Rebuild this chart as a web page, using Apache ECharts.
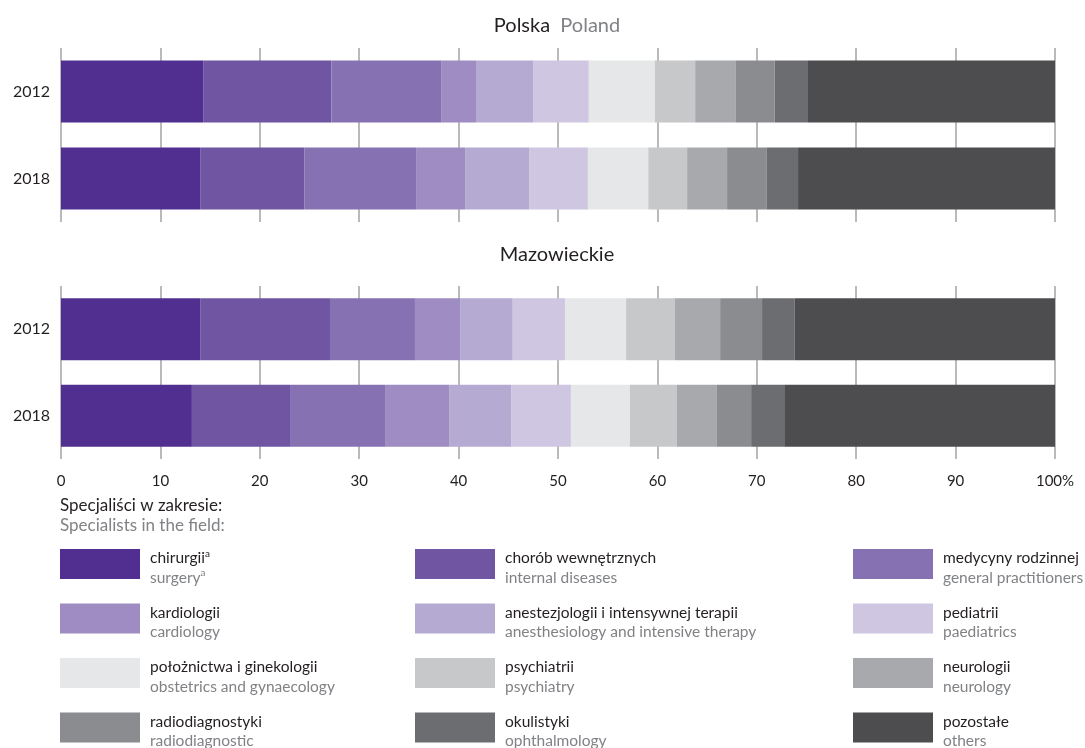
<!DOCTYPE html>
<html><head><meta charset="utf-8">
<script src="https://cdn.jsdelivr.net/npm/echarts@6/dist/echarts.min.js"></script>
<style>html,body{margin:0;padding:0;background:#fff}#c{width:1085px;height:748px}</style>
</head><body><div id="c"></div>
<script>
const years = ['2012', '2018'];
const ticks = ['0','10','20','30','40','50','60','70','80','90','100%'];
const namesPl = ['chirurgii','chorób wewnętrznych','medycyny rodzinnej','kardiologii','anestezjologii i intensywnej terapii','pediatrii','położnictwa i ginekologii','psychiatrii','neurologii','radiodiagnostyki','okulistyki','pozostałe'];
const namesEn = ['surgery','internal diseases','general practitioners','cardiology','anesthesiology and intensive therapy','paediatrics','obstetrics and gynaecology','psychiatry','neurology','radiodiagnostic','ophthalmology','others'];
const colors = ['#512f91','#6f55a2','#8672b2','#9e8cc2','#b4aad2','#cfc6e1','#e6e7e8','#c7c8ca','#a7a9ac','#8b8c90','#6c6d71','#4d4d4f'];
const polska2012 = [14.3, 12.9, 11.1, 3.45, 5.8, 5.55, 6.65, 4.05, 4.1, 3.9, 3.35, 24.85];
const polska2018 = [14.0, 10.47, 11.25, 4.93, 6.44, 5.92, 6.07, 3.91, 4.02, 4.0, 3.14, 25.85];
const mazow2012 = [14.0, 13.06, 8.55, 4.54, 5.3, 5.25, 6.15, 4.92, 4.54, 4.22, 3.29, 26.18];
const mazow2018 = [13.17, 9.87, 9.56, 6.5, 6.18, 6.02, 5.93, 4.74, 4.02, 3.44, 3.33, 27.24];

const FONT = 'Lato';
const chart = echarts.init(document.getElementById('c'), null, {renderer: 'canvas'});

function xAx(idx, showLabels) {
  return {
    gridIndex: idx, type: 'value', min: 0, max: 100, interval: 10,
    axisLine: {show: false}, axisTick: {show: false},
    splitLine: {show: true, lineStyle: {color: '#a3a3a3', width: 1.5}},
    axisLabel: {show: showLabels, margin: 15, fontFamily: FONT, fontSize: 15, color: '#231f20',
      formatter: (v) => ticks[Math.round(v / 10)]}
  };
}
function yAx(idx) {
  return {
    gridIndex: idx, type: 'category', data: years, inverse: true,
    axisLine: {show: false}, axisTick: {show: false},
    axisLabel: {margin: 11, fontFamily: FONT, fontSize: 16, color: '#231f20'}
  };
}
const series = [];
[[polska2012, polska2018], [mazow2012, mazow2018]].forEach((pair, g) => {
  namesPl.forEach((n, i) => {
    series.push({
      type: 'bar', name: n, stack: 's' + g, xAxisIndex: g, yAxisIndex: g,
      barWidth: 62, itemStyle: {color: colors[i]},
      data: [pair[0][i], pair[1][i]], emphasis: {disabled: true}
    });
  });
});

const LF = 15.5;
const rich = {
  a: {fontFamily: FONT, fontSize: LF, color: '#231f20', lineHeight: 27, verticalAlign: 'bottom', padding: [0,0,0,5]},
  sup: {fontFamily: FONT, fontSize: 10, color: '#231f20', lineHeight: 27, verticalAlign: 'bottom', padding: [0,0,7,0]},
  b: {fontFamily: FONT, fontSize: LF, color: '#808285', lineHeight: 23, padding: [0,0,0,5]},
  supb: {fontFamily: FONT, fontSize: 10, color: '#808285', lineHeight: 23, verticalAlign: 'top', padding: [2,0,0,0]}
};
function legendCol(left, idxs) {
  return {
    orient: 'vertical', left: left, top: 549, width: 240, height: 300, padding: 0,
    itemWidth: 80, itemHeight: 30, itemGap: 18,
    icon: 'rect', selectedMode: false,
    data: idxs.map(i => namesPl[i]),
    textStyle: {rich: rich},
    formatter: (name) => {
      const i = namesPl.indexOf(name);
      if (i === 0) return '{a|' + name + '}{sup|a}\n{b|' + namesEn[i] + '}{supb|a}';
      return '{a|' + name + '}\n{b|' + namesEn[i] + '}';
    }
  };
}

chart.setOption({
  animation: false,
  title: [
    {text: '{a|Polska}{b|  Poland}', left: 552, textAlign: 'center', top: 11,
      textStyle: {rich: {a: {fontFamily: FONT, fontSize: 20, fontWeight: 'normal', color: '#231f20'}, b: {fontFamily: FONT, fontSize: 20, fontWeight: 'normal', color: '#808285'}}}},
    {text: 'Mazowieckie', left: 552, textAlign: 'center', top: 240, textStyle: {fontFamily: FONT, fontSize: 20, fontWeight: 'normal', color: '#231f20'}},
    {text: '{a|Specjaliści w zakresie:}\n{b|Specialists in the field:}', left: 55, top: 491,
      textStyle: {rich: {a: {fontFamily: FONT, fontSize: 17, fontWeight: 'normal', color: '#231f20', lineHeight: 20}, b: {fontFamily: FONT, fontSize: 17, fontWeight: 'normal', color: '#808285', lineHeight: 20}}}}
  ],
  grid: [
    {left: 61, right: 30, top: 48, height: 174},
    {left: 61, right: 30, top: 286, height: 173}
  ],
  xAxis: [xAx(0, false), xAx(1, true)],
  yAxis: [yAx(0), yAx(1)],
  legend: [
    legendCol(60, [0, 3, 6, 9]),
    legendCol(415, [1, 4, 7, 10]),
    legendCol(853, [2, 5, 8, 11])
  ],
  series: series
});
</script></body></html>
